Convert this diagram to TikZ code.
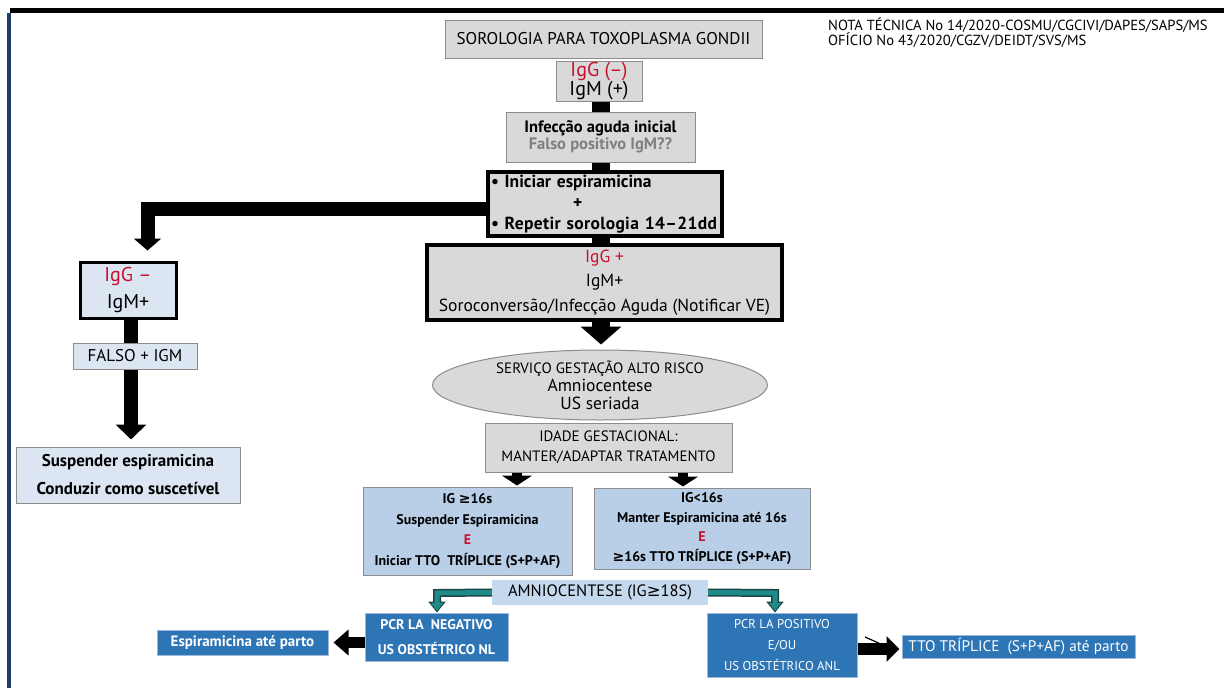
\documentclass[tikz,border=0pt]{standalone}
\usepackage{fontspec}
\setmainfont{PT Sans}
\newfontfamily\symfont{DejaVu Sans}
\usetikzlibrary{arrows.meta,shapes.geometric}

\definecolor{boxgray}{HTML}{D9D9D9}
\definecolor{edgegray}{HTML}{8C8C8C}
\definecolor{paleblue}{HTML}{DCE6F2}
\definecolor{midblue}{HTML}{B9CFE8}
\definecolor{labelblue}{HTML}{C5D9EE}
\definecolor{deepblue}{HTML}{2E75B6}
\definecolor{deepedge}{HTML}{9DB8DA}
\definecolor{alertred}{HTML}{C8102E}
\definecolor{tealfill}{HTML}{1F8A8A}
\definecolor{tealedge}{HTML}{1B4545}
\definecolor{framenavy}{HTML}{1F3E6E}

\newcommand{\fs}[2]{\fontsize{#1}{#2}\selectfont}
\newcommand{\gesym}{{\symfont ≥}}

\tikzset{
  box/.style={rectangle, inner sep=0pt, align=center},
  graybox/.style={box, fill=boxgray, draw=edgegray, line width=1pt},
  heavygray/.style={box, fill=boxgray, draw=black, line width=4pt},
  palebox/.style={box, fill=paleblue, draw=edgegray, line width=1pt},
  heavypale/.style={box, fill=paleblue, draw=black, line width=3pt},
  midbox/.style={box, fill=midblue, draw=edgegray, line width=1pt},
  deepbox/.style={box, fill=deepblue, draw=deepedge, line width=1pt, text=white},
  stem/.style={draw=black, line width=#1},
  fatarrow/.style args={#1/#2/#3}{draw=black, line width=#1,
     -{Triangle[width=#2, length=#3]}},
  tealouter/.style={draw=tealedge, line width=8pt, line join=miter,
     -{Triangle[width=17pt, length=11pt]}},
  tealinner/.style={draw=tealfill, line width=5pt, line join=miter,
     -{Triangle[width=12pt, length=8pt]}, shorten >=1.6pt},
}

\begin{document}
\begin{tikzpicture}[x=1pt, y=-1pt]
\useasboundingbox (0,0) rectangle (1224,688);
\fill[white] (0,0) rectangle (1224,688);

% page frame
\fill[black] (10,8) rectangle (1224,13);
\fill[framenavy] (7,13) rectangle (11,688);

% header
\node[graybox, minimum width=317pt, minimum height=38pt, font=\fs{17}{20}]
  (sor) at (603.5,39) {SOROLOGIA PARA TOXOPLASMA GONDII};
\node[anchor=north west, align=left, inner sep=0pt, font=\fs{14.6}{15}]
  (nota) at (828,18) {NOTA TÉCNICA No 14/2020-COSMU/CGCIVI/DAPES/SAPS/MS\\OFÍCIO No 43/2020/CGZV/DEIDT/SVS/MS};

% central column
\node[graybox, minimum width=86pt, minimum height=40pt, font=\fs{20}{19}]
  (igneg) at (599,81) {\textcolor{alertred}{IgG (–)}\\IgM (+)};
\node[graybox, minimum width=189pt, minimum height=50pt, font=\bfseries\fs{16.5}{17}]
  (inf) at (600.5,137) {Infecção aguda inicial\\\textcolor{gray}{Falso positivo IgM??}};
\node[heavygray, minimum width=234pt, minimum height=64pt, text width=228pt,
  align=left, font=\bfseries\fs{17.5}{21}]
  (ini) at (605,204) {• Iniciar espiramicina\\\hspace*{82pt}+\\\mbox{\addfontfeature{LetterSpace=2}• Repetir sorologia 14–21dd}};
\node[heavygray, minimum width=355pt, minimum height=75pt, font=\fs{17.5}{24.5}]
  (igp) at (604.5,282.5) {\textcolor{alertred}{IgG +}\\IgM+\\Soroconversão/Infecção Aguda (Notificar VE)};
\node[ellipse, fill=boxgray, draw=edgegray, line width=1pt, inner sep=0pt,
  minimum width=335pt, minimum height=70pt, align=center, font=\fs{15}{18}]
  (serv) at (600,385) {SERVIÇO GESTAÇÃO ALTO RISCO\\{\fs{17.5}{18}Amniocentese}\\{\fs{17.5}{18}US seriada}};
\node[graybox, minimum width=247pt, minimum height=49pt, font=\fs{15}{20}]
  (idade) at (608.5,447.5) {IDADE GESTACIONAL:\\MANTER/ADAPTAR TRATAMENTO};

\node[midbox, minimum width=209pt, minimum height=88pt, font=\bfseries\fs{14}{20.5}]
  (igA) at (467.5,531) {IG \gesym16s\\Suspender Espiramicina\\\textcolor{alertred}{E}\\Iniciar TTO\ \ TRÍPLICE (S+P+AF)};
\node[midbox, minimum width=216pt, minimum height=81pt, font=\bfseries\fs{14}{19.7}]
  (igB) at (702,528.5) {IG<16s\\Manter Espiramicina até 16s\\\textcolor{alertred}{E}\\\gesym16s TTO TRÍPLICE (S+P+AF)};

\node[box, fill=labelblue, minimum width=216pt, minimum height=25pt, font=\fs{16.5}{18}]
  (amnio) at (600,592.5) {AMNIOCENTESE (IG\gesym18S)};

\node[deepbox, minimum width=143pt, minimum height=48pt, font=\bfseries\fs{14}{25}]
  (pneg) at (436.5,637) {PCR LA\ \ NEGATIVO\\US OBSTÉTRICO NL};
\node[deepbox, minimum width=171pt, minimum height=25pt, font=\bfseries\fs{15}{16}]
  (esp) at (242.5,642.5) {Espiramicina até parto};
\node[deepbox, minimum width=150pt, minimum height=64pt, font=\fs{12.8}{21}]
  (ppos) at (782,645) {PCR LA POSITIVO\\E/OU\\US OBSTÉTRICO ANL};
\node[deepbox, minimum width=233pt, minimum height=23pt, font=\fs{15.3}{16}]
  (tto) at (1018.5,646.5) {TTO TRÍPLICE\ \ (S+P+AF) até parto};

% left branch
\node[heavypale, minimum width=96pt, minimum height=56pt, font=\fs{20}{27}]
  (igm) at (128,290) {\textcolor{alertred}{IgG –}\\IgM+};
\node[palebox, minimum width=124pt, minimum height=26pt, font=\fs{17}{16}]
  (falso) at (135,356) {FALSO + IGM};
\node[palebox, minimum width=224pt, minimum height=56pt, font=\bfseries\fs{17}{28}]
  (susp) at (128,475) {Suspender espiramicina\\Conduzir como suscetível};

% connector guide coordinates
\coordinate (cx) at (601,0);
\coordinate (lb) at (147.5,209);
\coordinate (lx) at (131,0);
\coordinate (ka) at (517,0);
\coordinate (kb) at (683,0);
\coordinate (tl) at (437,593);
\coordinate (tr) at (775,593);
\coordinate (ry) at (0,649);

% central stems
\draw[stem=18pt] (cx |- igneg.south) -- (cx |- inf.north);
\draw[stem=18pt] (cx |- inf.south) -- (cx |- ini.north);
\draw[stem=18pt] (cx |- ini.south) -- (cx |- igp.north);
\draw[fatarrow=18pt/40pt/18pt, shorten >=5pt] (cx |- igp.south) -- (cx |- serv.north);
\draw[fatarrow=10pt/30pt/10pt, shorten >=1pt] (ka |- idade.south) -- (ka |- igA.north);
\draw[fatarrow=10pt/30pt/10pt, shorten >=1pt] (kb |- idade.south) -- (kb |- igB.north);

% left branch connectors
\draw[fatarrow=14pt/27pt/12pt, shorten >=10pt, line join=miter]
  (ini.west |- lb) -- (lb) -- (lb |- igm.north);
\draw[stem=14pt] (lx |- igm.south) -- (lx |- falso.north);
\draw[fatarrow=14pt/30pt/15pt, shorten >=7pt] (lx |- falso.south) -- (lx |- susp.north);

% amniocentesis split
\draw[tealouter] (amnio.west) -- (tl) -- (tl |- pneg.north);
\draw[tealinner] (amnio.west) -- (tl) -- (tl |- pneg.north);
\draw[tealouter] (amnio.east) -- (tr) -- (tr |- ppos.north);
\draw[tealinner] (amnio.east) -- (tr) -- (tr |- ppos.north);

% outcome arrows
\draw[fatarrow=11pt/25pt/15pt, shorten >=5pt] (pneg.west |- esp.east) -- (esp.east);
\draw[fatarrow=12pt/25pt/13pt, shorten >=2pt] (ppos.east |- ry) -- (tto.west |- ry);
\draw[line width=1.2pt] (865,637) -- (883,645);
\end{tikzpicture}
\end{document}
